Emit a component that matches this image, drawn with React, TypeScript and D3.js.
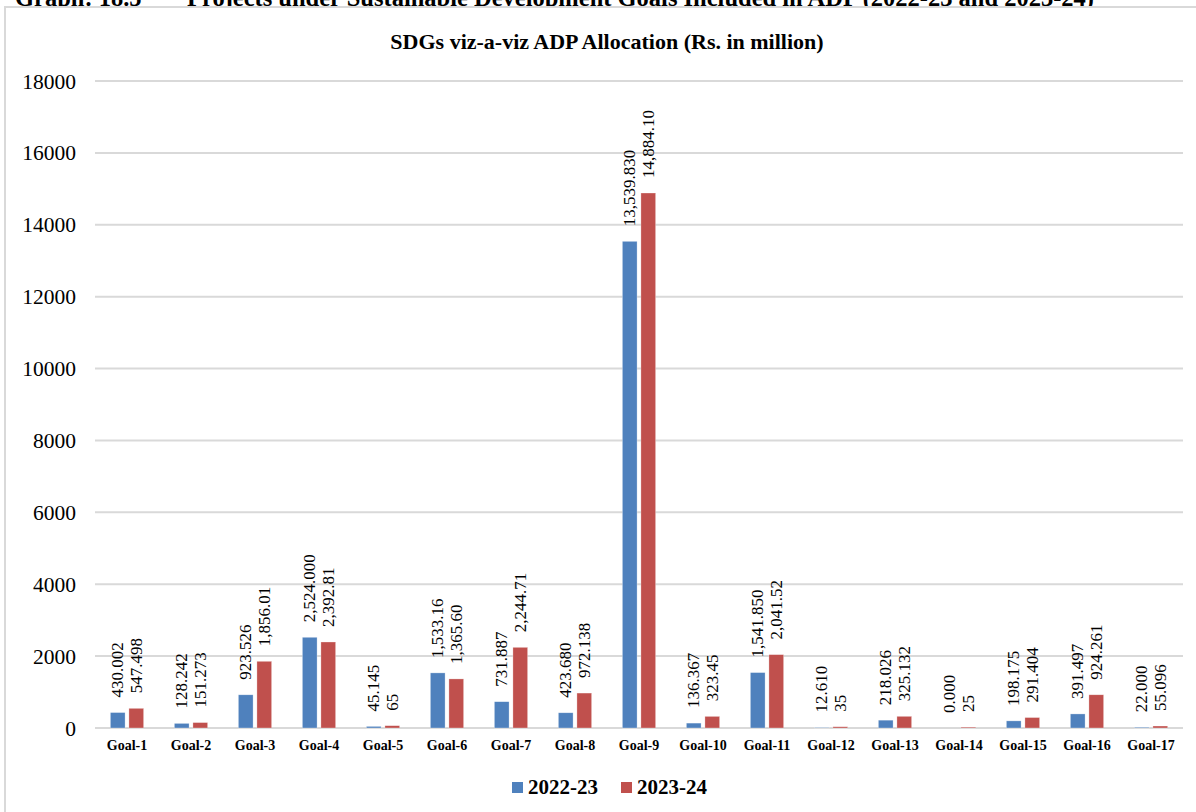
import React from "react";
import * as d3 from "d3";

const goals = ["Goal-1","Goal-2","Goal-3","Goal-4","Goal-5","Goal-6","Goal-7","Goal-8","Goal-9","Goal-10","Goal-11","Goal-12","Goal-13","Goal-14","Goal-15","Goal-16","Goal-17"];
const values2223 = [430.002,128.242,923.526,2524.0,45.145,1533.16,731.887,423.68,13539.83,136.367,1541.85,12.61,218.026,0.0,198.175,391.497,22.0];
const labels2223 = ["430.002","128.242","923.526","2,524.000","45.145","1,533.16","731.887","423.680","13,539.830","136.367","1,541.850","12.610","218.026","0.000","198.175","391.497","22.000"];
const values2324 = [547.498,151.273,1856.01,2392.81,65,1365.6,2244.71,972.138,14884.1,323.45,2041.52,35,325.132,25,291.404,924.261,55.096];
const labels2324 = ["547.498","151.273","1,856.01","2,392.81","65","1,365.60","2,244.71","972.138","14,884.10","323.45","2,041.52","35","325.132","25","291.404","924.261","55.096"];
const yTicks = [0,2000,4000,6000,8000,10000,12000,14000,16000,18000];
const seriesNames = ["2022-23","2023-24"];
const colors = ["#4F81BD","#C0504D"];

const FONT = "'Liberation Serif','Times New Roman',serif";

export default function App() {
  const W = 1196, H = 812;
  const x = d3.scaleBand<string>().domain(goals).range([95, 1183]).padding(0);
  const y = d3.scaleLinear().domain([0, 18000]).range([728, 81]);
  const bw = x.bandwidth();
  const barW = bw * 0.23;
  const gap = bw * 0.06;
  const series = [
    { vals: values2223, labs: labels2223, off: -gap / 2 - barW },
    { vals: values2324, labs: labels2324, off: gap / 2 },
  ];
  return (
    <svg width={W} height={H} style={{ position: "absolute", left: 0, top: 0, background: "#fff" }} fontFamily={FONT}>
      <text x={15} y={6} fontSize={24.5} fontWeight="bold" fill="#000">Graph: 18.5</text>
      <text x={187} y={6} fontSize={24.5} fontWeight="bold" fill="#000">Projects under Sustainable Development Goals Included in ADP (2022-23 and 2023-24)</text>
      <rect x={5} y={7} width={1300} height={900} fill="#fff" stroke="#d9d9d9" strokeWidth={2} />
      <text x={607} y={49} textAnchor="middle" fontSize={22} fontWeight="bold">SDGs viz-a-viz ADP Allocation (Rs. in million)</text>
      {yTicks.map((t) => (
        <g key={t}>
          <line x1={95} x2={1183} y1={y(t)} y2={y(t)} stroke="#d9d9d9" strokeWidth={2} />
          <text x={76} y={y(t)} dy="0.35em" textAnchor="end" fontSize={21.5}>{t}</text>
        </g>
      ))}
      {goals.map((g, i) => (
        <g key={g}>
          {series.map((s, k) => {
            const bx = (x(g) as number) + bw / 2 + s.off;
            const top = y(s.vals[i]);
            return (
              <g key={k}>
                <rect x={bx} y={top} width={barW} height={728 - top} fill={colors[k]} stroke="#ffffff" strokeOpacity={0.5} strokeWidth={0.6} />
                <text transform={`translate(${bx + barW / 2},${top - 15}) rotate(-90)`} dominantBaseline="central" fontSize={17}>{s.labs[i]}</text>
              </g>
            );
          })}
          <text x={(x(g) as number) + bw / 2} y={750} textAnchor="middle" fontSize={14} fontWeight="bold">{g}</text>
        </g>
      ))}
      {seriesNames.map((n, k) => (
        <g key={n} transform={`translate(${512 + k * 109},0)`}>
          <rect x={0} y={782} width={11} height={11} fill={colors[k]} />
          <text x={16} y={794} fontSize={21} fontWeight="bold">{n}</text>
        </g>
      ))}
    </svg>
  );
}
